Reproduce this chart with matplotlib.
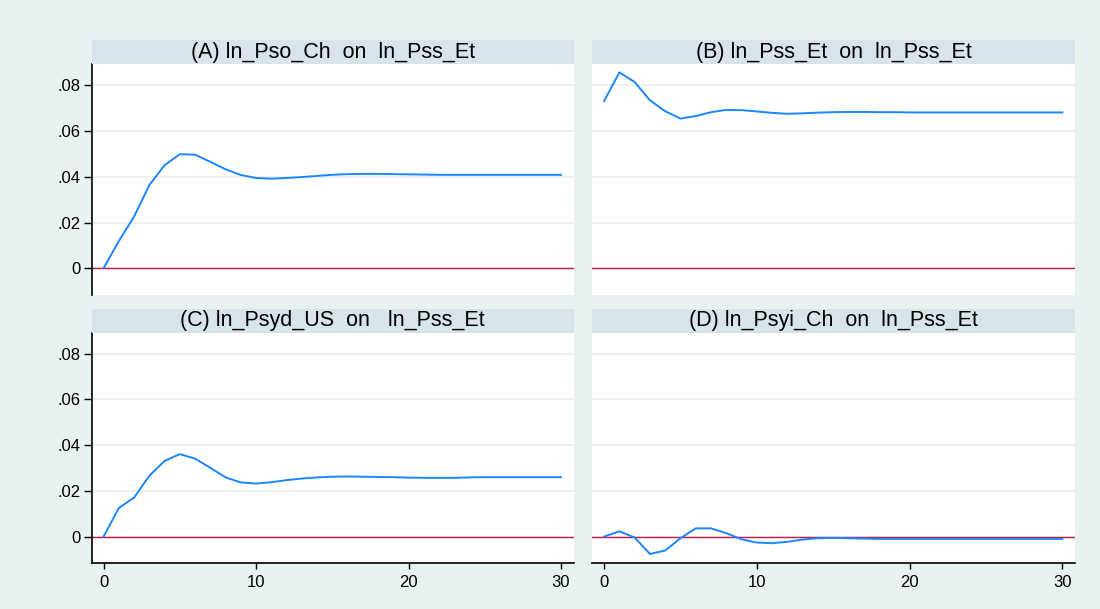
import numpy as np
import matplotlib.pyplot as plt
from matplotlib.patches import Rectangle

plt.rcParams['font.family'] = ['Liberation Sans', 'DejaVu Sans']

# impulse response horizon
steps = np.arange(0, 31)

# (A) ln_Pso_Ch on ln_Pss_Et
irf_a = [0.0, 0.0119, 0.0226, 0.0364, 0.0451, 0.0499, 0.0497, 0.0466, 0.0433, 0.0408,
         0.0395, 0.0392, 0.0395, 0.0399, 0.0404, 0.0409, 0.0412, 0.0413, 0.0413, 0.0412,
         0.0411, 0.0410, 0.0409, 0.0409, 0.0409, 0.0409, 0.0409, 0.0409, 0.0409, 0.0409, 0.0409]
# (B) ln_Pss_Et on ln_Pss_Et
irf_b = [0.0732, 0.0857, 0.0815, 0.0735, 0.0687, 0.0655, 0.0666, 0.0683, 0.0693, 0.0692,
         0.0686, 0.0680, 0.0676, 0.0678, 0.0681, 0.0683, 0.0684, 0.0684, 0.0683, 0.0683,
         0.0682, 0.0682, 0.0682, 0.0682, 0.0682, 0.0682, 0.0682, 0.0682, 0.0682, 0.0682, 0.0682]
# (C) ln_Psyd_US on ln_Pss_Et
irf_c = [0.0, 0.0125, 0.0171, 0.0266, 0.0331, 0.0361, 0.0341, 0.0301, 0.0259, 0.0237,
         0.0232, 0.0238, 0.0247, 0.0254, 0.0259, 0.0262, 0.0263, 0.0262, 0.0261, 0.0260,
         0.0258, 0.0257, 0.0257, 0.0257, 0.0259, 0.0260, 0.0260, 0.0260, 0.0260, 0.0260, 0.0260]
# (D) ln_Psyi_Ch on ln_Pss_Et
irf_d = [0.0, 0.0023, -0.0004, -0.0076, -0.0061, -0.0007, 0.0036, 0.0036, 0.0015, -0.0012,
         -0.0026, -0.0029, -0.0023, -0.0013, -0.0007, -0.0006, -0.0007, -0.0009, -0.0010, -0.0010,
         -0.0010, -0.0010, -0.0010, -0.0010, -0.0010, -0.0010, -0.0010, -0.0010, -0.0010, -0.0010, -0.0010]

titles = ["(A) ln_Pso_Ch  on  ln_Pss_Et", "(B) ln_Pss_Et  on  ln_Pss_Et",
          "(C) ln_Psyd_US  on   ln_Pss_Et", "(D) ln_Psyi_Ch  on  ln_Pss_Et"]
y_ticks = [0, 0.02, 0.04, 0.06, 0.08]
y_labels = ["0", ".02", ".04", ".06", ".08"]
x_ticks = [0, 10, 20, 30]

outer = '#E9F1F3'
band = '#D8E4EA'
blue = '#1A86FF'
red = '#C8174A'

fig = plt.figure(figsize=(11, 6.09), dpi=100, facecolor=outer)

lefts = [0.0835, 0.5385]
widths = [0.438, 0.4388]
bottoms = [0.5156, 0.075]
height = 0.379
band_h = 0.0394

series = [irf_a, irf_b, irf_c, irf_d]

for i in range(4):
    row, col = divmod(i, 2)
    l, w, b = lefts[col], widths[col], bottoms[row]
    ax = fig.add_axes([l, b, w, height])
    ax.set_facecolor('white')
    ax.plot(steps, series[i], color=blue, lw=1.4, zorder=3)
    ax.axhline(0, color=red, lw=1.0, zorder=2)
    ax.set_xlim(-0.77, 30.83)
    ax.set_ylim(-0.0117, 0.0893)
    ax.set_yticks(y_ticks)
    ax.yaxis.grid(True, color='#EAF2F3', lw=1.5)
    ax.set_axisbelow(True)
    for s in ['top', 'right']:
        ax.spines[s].set_visible(False)
    if col == 0:
        ax.set_yticklabels(y_labels)
        ax.spines['left'].set_color('black')
        ax.spines['left'].set_linewidth(1.2)
        ax.tick_params(axis='y', direction='out', length=6, width=1, labelsize=12, pad=2)
    else:
        ax.spines['left'].set_visible(False)
        ax.tick_params(axis='y', length=0, labelleft=False)
    if row == 1:
        ax.set_xticks(x_ticks)
        ax.spines['bottom'].set_color('black')
        ax.spines['bottom'].set_linewidth(1.2)
        ax.tick_params(axis='x', direction='out', length=4.5, width=1, labelsize=12, pad=4)
    else:
        ax.spines['bottom'].set_visible(False)
        ax.tick_params(axis='x', length=0, labelbottom=False)

    # title band on top of each panel
    fig.patches.append(Rectangle((l, b + height), w, band_h, transform=fig.transFigure,
                                 facecolor=band, edgecolor='none'))
    fig.text(l + w / 2, b + height + band_h / 2, titles[i], ha='center', va='center',
             fontsize=15.5)

fig.savefig("out.png", dpi=100, facecolor=outer)
